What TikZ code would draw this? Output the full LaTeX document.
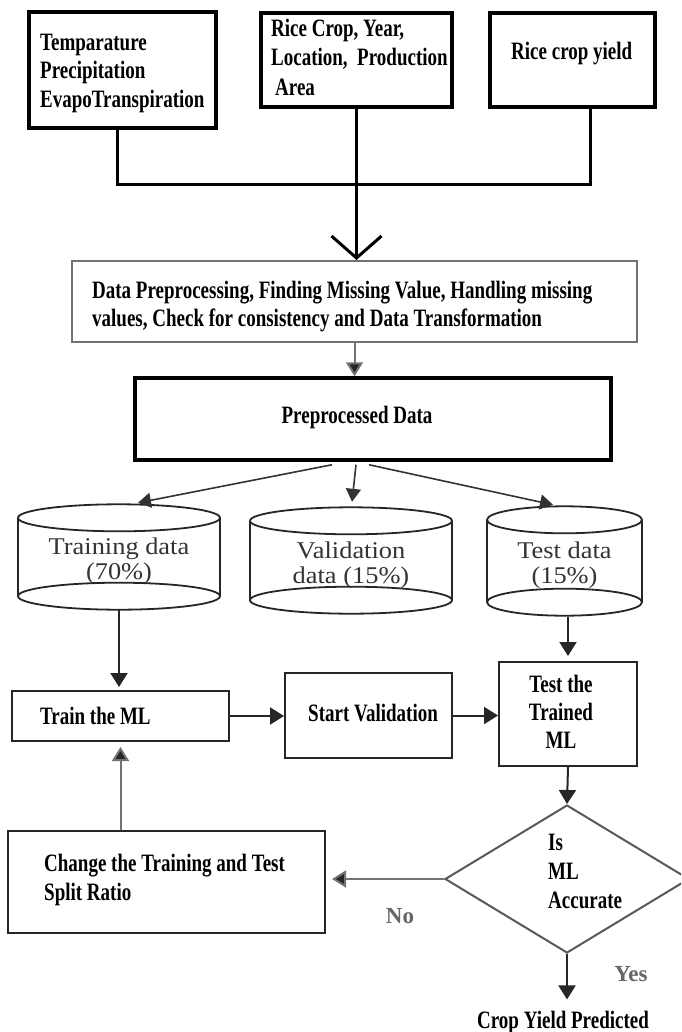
\documentclass[tikz,border=0pt]{standalone}
\usepackage{fontspec}
\setmainfont{Liberation Serif}
\newfontfamily\condfont[FakeStretch=0.76]{Liberation Serif}
\newfontfamily\cylfont[FakeStretch=1.1]{Liberation Serif}
\usetikzlibrary{arrows.meta,shapes.geometric,calc}
\newcommand{\cyllines}[2]{\raisebox{0pt}[\dimexpr\height+10pt\relax][\depth]{\begin{tabular}{@{}c@{}}#1\\#2\end{tabular}}}
\tikzset{
  thickbox/.style={draw=black, line width=3.5pt, rectangle, inner sep=0pt, fill=white},
  thinbox/.style={draw=black!85, line width=2pt, rectangle, inner sep=0pt, fill=white},
  graybox/.style={draw=black!55, line width=2pt, rectangle, inner sep=0pt, fill=white},
  lbl/.style={font=\condfont\bfseries\fontsize{25}{28.5}\selectfont, inner sep=0pt, align=left, text=black},
  cyltext/.style={font=\cylfont\fontsize{24}{25}\selectfont, text=black!80, inner sep=0pt},
  cylbody/.style={rectangle, inner sep=0pt},
  cylline/.style={draw=black!85, line width=1.8pt},
  conn/.style={draw=black, line width=3pt},
  arr/.style={draw=black!85, line width=2pt, -{Triangle[length=14pt,width=17pt]}},
  garr/.style={draw=black!55, line width=2pt, -{Triangle[length=14pt,width=17pt,fill=black!85]}},
  tarr/.style={draw=black!80, line width=1.6pt, -{Triangle[length=13pt,width=15pt]}},
  yn/.style={font=\bfseries\fontsize{23}{26}\selectfont, text=black!60, inner sep=0pt}
}
\begin{document}
\begin{tikzpicture}[x=1pt,y=-1pt]
\clip (0,0) rectangle (681,1032);
\fill[white] (0,0) rectangle (681,1032);

% top boxes
\node[thickbox, minimum width=187pt, minimum height=116pt] (b1) at (122.5,70) {};
\node[thickbox, minimum width=191pt, minimum height=94pt] (b2) at (356.5,60) {};
\node[thickbox, minimum width=165pt, minimum height=94pt] (b3) at (572.5,60) {};
\node[lbl, anchor=north west] (t1) at (40,33.5) {Temparature\\Precipitation\\EvapoTranspiration};
\node[lbl, anchor=north west, font=\condfont\bfseries\fontsize{25}{29.5}\selectfont] (t2) at (271,18.5) {Rice Crop, Year,\\Location,\ \ Production\\\hspace{4pt}Area};
\node[lbl, anchor=base west] (t3) at (511,60) {Rice crop yield};

% preprocessing
\node[graybox, minimum width=565pt, minimum height=81pt] (b4) at (354.5,301.5) {};
\node[lbl, anchor=north west, font=\condfont\bfseries\fontsize{25}{28}\selectfont] (t4) at (92,281) {Data Preprocessing, Finding Missing Value, Handling missing\\values, Check for consistency and Data Transformation};
\node[thickbox, minimum width=476pt, minimum height=82pt] (b5) at (373,419) {};
\node[lbl, anchor=base] (t5) at (357,423) {Preprocessed Data};

% connectors top
\coordinate (j1) at (117,185);
\coordinate (j3) at (590,185);
\draw[conn] (j1 |- b1.south) -- (j1) -- (j3) -- (j3 |- b3.south);
\draw[conn, -{Straight Barb[length=22pt,width=50pt]}] (b2.south) -- (b2.south |- b4.north);
\draw[garr] (b4.south) -- (b4.south |- b5.north);

% cylinders
\node[cylbody, cyltext, minimum width=202pt, minimum height=78pt] (c1) at (119,557) {\cyllines{Training data}{(70\%)}};
\node[cylbody, cyltext, minimum width=202pt, minimum height=79pt] (c2) at (351,560.5) {\cyllines{Validation}{data (15\%)}};
\node[cylbody, cyltext, minimum width=155pt, minimum height=82pt] (c3) at (564.5,561) {\cyllines{Test data}{(15\%)}};
\foreach \c/\r in {c1/101, c2/101, c3/77.5}{
  \draw[cylline] (\c.north west) -- (\c.south west) (\c.north east) -- (\c.south east);
  \draw[cylline] (\c.north) ellipse [x radius=\r pt, y radius=13.5pt];
  \draw[cylline] (\c.south) ellipse [x radius=\r pt, y radius=13.5pt];
}
\draw[tarr] ($(b5.south)+(-41,3)$) -- ($(c1.north)+(19,-15)$);
\draw[tarr] ($(b5.south)+(-17,3)$) -- ($(c2.north)+(1,-19)$);
\draw[tarr] ($(b5.south)+(-4,3)$) -- ($(c3.north)+(-11.5,-15)$);

% ML boxes
\node[thinbox, minimum width=217pt, minimum height=50pt] (tr) at (120.5,716) {};
\node[lbl, anchor=base west] (ttr) at (40,724) {Train the ML};
\node[thinbox, minimum width=167pt, minimum height=85pt] (sv) at (368.5,715.5) {};
\node[lbl, anchor=base west] (tsv) at (308,721) {Start Validation};
\node[thinbox, minimum width=138pt, minimum height=104pt] (te) at (568,714) {};
\node[lbl, anchor=north, align=center, font=\condfont\bfseries\fontsize{25}{28}\selectfont] (tte) at (561,674.5) {Test the\\Trained\\ML};

\draw[arr, shorten >=3pt] ($(c1.south)+(0,14)$) -- (c1.south |- tr.north);
\draw[arr] (tr.east) -- (tr.east -| sv.west);
\draw[arr] (sv.east) -- (sv.east -| te.west);
\draw[arr, shorten >=5pt] ($(c3.south -| te.north)+(0,14.5)$) -- (te.north);

% decision
\node[draw=black!65, line width=2pt, diamond, minimum width=244pt, minimum height=148pt, inner sep=0pt, fill=white] (dia) at (567,879) {};
\node[lbl, anchor=north west, font=\condfont\bfseries\fontsize{25}{29}\selectfont] (tdia) at (548,833.5) {Is\\ML\\Accurate};
\draw[arr] (te.south) -- (dia.north);

\node[thinbox, minimum width=317pt, minimum height=102pt] (ch) at (166.5,882) {};
\node[lbl, anchor=north west, font=\condfont\bfseries\fontsize{25}{29}\selectfont] (tch) at (44,854) {Change the Training and Test\\Split Ratio};
\draw[garr, shorten >=6pt] (dia.west) -- (dia.west -| ch.east);
\draw[garr, shorten >=5pt] (tr.south |- ch.north) -- (tr.south);

\node[yn, anchor=base] (no) at (400,923) {No};
\node[yn, anchor=base] (yes) at (631,981) {Yes};
\node[lbl, anchor=base] (cy) at (563,1028) {Crop Yield Predicted};
\draw[arr, shorten >=11pt] (dia.south) -- (dia.south |- cy.north);
\end{tikzpicture}
\end{document}
